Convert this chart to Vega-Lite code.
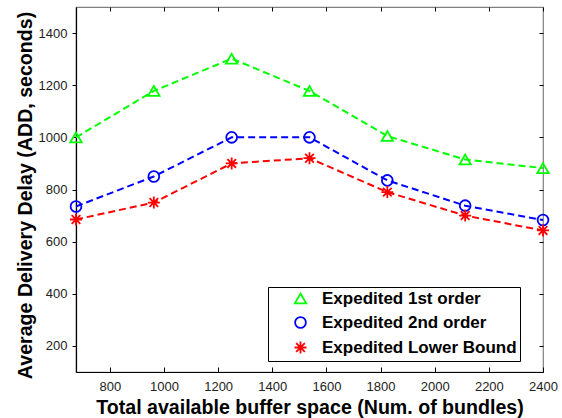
{
  "$schema": "https://vega.github.io/schema/vega-lite/v6.json",
  "width": 467,
  "height": 365,
  "autosize": {"type": "none"},
  "padding": {"left": 76, "top": 7, "right": 19, "bottom": 46},
  "background": "white",
  "config": {
    "font": "Liberation Sans",
    "view": {"stroke": "#808080", "strokeWidth": 1.2},
    "axis": {"grid": false},
    "legend": {
      "orient": "none",
      "legendX": 192,
      "legendY": 280,
      "direction": "vertical",
      "padding": 3,
      "strokeColor": "black",
      "fillColor": "white",
      "symbolSize": 144,
      "symbolOffset": 21,
      "symbolStrokeWidth": 1.8,
      "labelOffset": 13,
      "labelFontSize": 17,
      "labelFontWeight": "bold",
      "labelColor": "black",
      "labelLimit": 400,
      "rowPadding": 5
    }
  },
  "data": {
    "values": [
      {"buffer": 675, "add": 1000, "series": "Expedited 1st order"},
      {"buffer": 962.5, "add": 1178, "series": "Expedited 1st order"},
      {"buffer": 1250, "add": 1302, "series": "Expedited 1st order"},
      {"buffer": 1537.5, "add": 1178, "series": "Expedited 1st order"},
      {"buffer": 1825, "add": 1005, "series": "Expedited 1st order"},
      {"buffer": 2112.5, "add": 915, "series": "Expedited 1st order"},
      {"buffer": 2400, "add": 882, "series": "Expedited 1st order"},
      {"buffer": 675, "add": 735, "series": "Expedited 2nd order"},
      {"buffer": 962.5, "add": 850, "series": "Expedited 2nd order"},
      {"buffer": 1250, "add": 1000, "series": "Expedited 2nd order"},
      {"buffer": 1537.5, "add": 1000, "series": "Expedited 2nd order"},
      {"buffer": 1825, "add": 835, "series": "Expedited 2nd order"},
      {"buffer": 2112.5, "add": 738, "series": "Expedited 2nd order"},
      {"buffer": 2400, "add": 683, "series": "Expedited 2nd order"},
      {"buffer": 675, "add": 685, "series": "Expedited Lower Bound"},
      {"buffer": 962.5, "add": 750, "series": "Expedited Lower Bound"},
      {"buffer": 1250, "add": 900, "series": "Expedited Lower Bound"},
      {"buffer": 1537.5, "add": 920, "series": "Expedited Lower Bound"},
      {"buffer": 1825, "add": 790, "series": "Expedited Lower Bound"},
      {"buffer": 2112.5, "add": 700, "series": "Expedited Lower Bound"},
      {"buffer": 2400, "add": 643, "series": "Expedited Lower Bound"}
    ]
  },
  "layer": [
    {
      "mark": {"type": "line", "strokeDash": [7, 4], "strokeWidth": 2, "clip": false},
      "encoding": {
        "x": {
          "field": "buffer",
          "type": "quantitative",
          "scale": {"domain": [675, 2400], "nice": false, "zero": false},
          "axis": {
            "orient": "bottom",
            "values": [800, 1000, 1200, 1400, 1600, 1800, 2000, 2200, 2400],
            "format": "d",
            "title": "Total available buffer space (Num. of bundles)",
            "domainColor": "black",
            "domainWidth": 1.2,
            "tickColor": "black",
            "tickSize": -5,
            "labelPadding": 13,
            "labelFontSize": 13,
            "labelColor": "#222222",
            "labelFlush": false,
            "labelOverlap": false,
            "titleFontSize": 19.6,
            "titleFontWeight": "bold",
            "titleColor": "black",
            "titleX": 233.5,
            "titleY": 41,
            "titleBaseline": "alphabetic",
            "titleAlign": "center"
          }
        },
        "y": {
          "field": "add",
          "type": "quantitative",
          "scale": {"domain": [100, 1500], "nice": false, "zero": false},
          "axis": {
            "orient": "left",
            "values": [200, 400, 600, 800, 1000, 1200, 1400],
            "format": "d",
            "title": "Average Delivery Delay (ADD, seconds)",
            "domainColor": "black",
            "domainWidth": 1.2,
            "tickColor": "black",
            "tickSize": 4,
            "labelPadding": 5,
            "labelFontSize": 13,
            "labelColor": "#222222",
            "labelFlush": false,
            "labelOverlap": false,
            "titleFontSize": 19.6,
            "titleFontWeight": "bold",
            "titleColor": "black",
            "titleAngle": -90,
            "titleX": -51,
            "titleY": 188,
            "titleBaseline": "middle",
            "titleAlign": "center"
          }
        },
        "color": {
          "field": "series",
          "type": "nominal",
          "scale": {
            "domain": ["Expedited 1st order", "Expedited 2nd order", "Expedited Lower Bound"],
            "range": ["#00ff00", "#0000ff", "#ff0000"]
          },
          "legend": {"title": null}
        }
      }
    },
    {
      "mark": {"type": "point", "filled": false, "strokeWidth": 1.8, "size": 144, "opacity": 1, "clip": false},
      "encoding": {
        "x": {
          "field": "buffer",
          "type": "quantitative",
          "axis": {
            "orient": "top",
            "values": [800, 1000, 1200, 1400, 1600, 1800, 2000, 2200, 2400],
            "title": null,
            "labels": false,
            "domain": false,
            "tickColor": "black",
            "tickSize": -4
          }
        },
        "y": {
          "field": "add",
          "type": "quantitative",
          "axis": {
            "orient": "right",
            "values": [200, 400, 600, 800, 1000, 1200, 1400],
            "title": null,
            "labels": false,
            "domain": false,
            "tickColor": "black",
            "tickSize": -4
          }
        },
        "color": {"field": "series", "type": "nominal", "legend": null},
        "shape": {
          "field": "series",
          "type": "nominal",
          "scale": {
            "domain": ["Expedited 1st order", "Expedited 2nd order", "Expedited Lower Bound"],
            "range": [
              "M0,-0.82L-0.95,0.82L0.95,0.82Z",
              "M-0.9,0A0.9,0.9 0 1,0 0.9,0A0.9,0.9 0 1,0 -0.9,0",
              "M0,-1L0,1M-1,0L1,0M-0.72,-0.72L0.72,0.72M-0.72,0.72L0.72,-0.72"
            ]
          },
          "legend": null
        }
      }
    }
  ],
  "resolve": {"axis": {"x": "independent", "y": "independent"}}
}
